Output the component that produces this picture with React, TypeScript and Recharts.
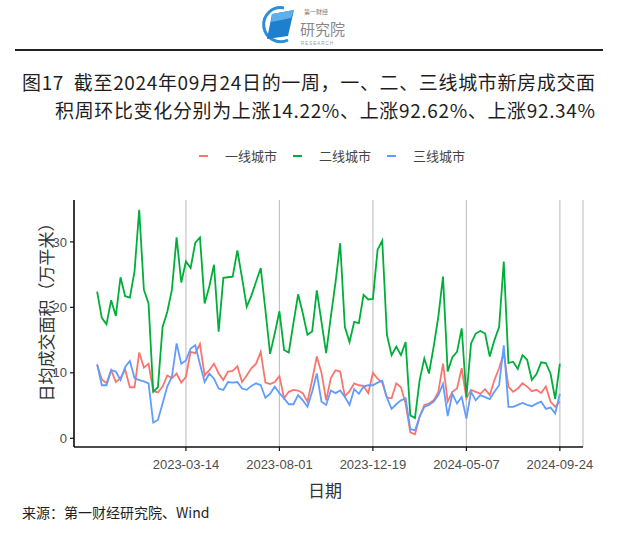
import React from "react";
import { LineChart, Line, XAxis, YAxis, CartesianGrid } from "recharts";

// weekly, first week ending 2022-11-01
const startDate = "2022-11-01";

const tier1 = [
  11.2, 9.0, 8.4, 10.4, 8.6, 9.2, 10.5, 7.8, 7.8, 13.1,
  10.8, 11.4, 7.2, 7.0, 7.9, 9.6, 9.2, 9.9, 8.5, 9.4,
  13.2, 13.0, 14.4, 9.6, 10.4, 11.4, 9.9, 8.9, 10.2, 10.3,
  11.0, 8.6, 9.6, 10.7, 11.4, 13.2, 8.5, 8.3, 8.6, 9.5,
  6.1, 7.1, 7.4, 7.3, 6.9, 5.6, 8.9, 12.5, 10.0, 5.8,
  9.2, 10.4, 10.2, 6.4, 7.2, 8.4, 8.1, 8.0, 6.9, 10.0,
  9.1, 8.5, 6.2, 6.1, 8.4, 7.8, 5.3, 0.9, 0.6, 3.3,
  5.1, 5.3, 5.8, 7.1, 11.4, 5.6, 7.1, 7.6, 10.7, 6.1,
  7.4, 7.1, 6.8, 7.5, 6.6, 8.9, 10.7, 13.0, 7.9, 7.1,
  7.6, 8.4, 7.9, 7.2, 7.4, 6.9, 7.9, 5.6, 4.8, 5.6,
];

const tier2 = [
  22.4, 18.4, 17.4, 21.1, 18.7, 24.6, 21.7, 21.5, 25.5, 34.9,
  22.7, 20.6, 7.1, 7.8, 17.0, 19.3, 22.7, 30.7, 23.8, 27.0,
  26.0, 29.9, 30.7, 20.6, 23.2, 26.5, 16.3, 24.5, 24.6, 24.7,
  28.7, 24.5, 20.1, 21.8, 23.9, 26.0, 19.6, 12.9, 16.0, 19.4,
  13.5, 13.1, 17.6, 22.0, 19.1, 15.8, 16.3, 22.6, 17.8, 13.0,
  18.6, 23.8, 29.8, 17.0, 14.7, 17.8, 17.6, 21.9, 21.2, 21.3,
  28.8, 30.2, 15.8, 12.7, 14.0, 12.7, 14.7, 3.5, 3.1, 8.9,
  12.2, 9.9, 14.0, 18.6, 24.7, 10.2, 12.4, 13.2, 16.8, 6.3,
  14.5, 16.0, 16.4, 16.0, 12.5, 15.0, 17.0, 27.0, 11.5, 11.7,
  10.6, 12.7, 12.0, 8.9, 9.8, 11.6, 11.5, 9.9, 6.0, 11.4,
];

const tier3 = [
  11.3, 8.1, 8.1, 10.4, 10.2, 8.9, 10.9, 11.8, 9.2, 8.9,
  8.7, 8.4, 2.4, 2.8, 5.3, 7.9, 9.4, 14.5, 11.4, 11.9,
  13.7, 14.2, 11.3, 8.6, 9.9, 9.1, 7.6, 7.4, 8.6, 8.5,
  8.6, 7.6, 7.4, 8.0, 8.4, 8.1, 6.2, 6.8, 7.9, 6.9,
  6.1, 5.2, 5.2, 6.6, 5.8, 4.8, 7.1, 9.9, 5.6, 5.1,
  7.3, 6.9, 7.3, 6.3, 5.1, 7.5, 6.8, 7.9, 8.1, 8.1,
  8.5, 8.8, 6.2, 4.5, 5.2, 5.8, 6.1, 1.4, 1.2, 3.3,
  4.8, 5.1, 5.6, 6.6, 8.3, 3.4, 6.8, 5.3, 6.3, 3.0,
  7.1, 5.8, 6.6, 6.3, 6.0, 7.1, 8.1, 14.2, 4.8, 4.8,
  5.1, 5.4, 5.1, 4.9, 5.3, 5.6, 4.5, 4.7, 3.8, 6.8,
];

const xTickLabels = ["2023-03-14", "2023-08-01", "2023-12-19", "2024-05-07", "2024-09-24"];
const yTicks = [0, 10, 20, 30];
const seriesNames = ["一线城市", "二线城市", "三线城市"];
const seriesKeys = ["tier1", "tier2", "tier3"];
const seriesColors = ["#F8766D", "#00AE3A", "#619CFF"];

const WEEK = 7 * 24 * 3600 * 1000;
const toMs = (s: string) => Date.parse(s + "T00:00:00Z");
const fmtDate = (ms: number) => new Date(ms).toISOString().slice(0, 10);

const t0 = toMs(startDate);
const data = tier1.map((v, i) => ({ t: t0 + i * WEEK, tier1: v, tier2: tier2[i], tier3: tier3[i] }));
const tEnd = data[data.length - 1].t;
const pad = (tEnd - t0) * 0.05;

const sans = "'Noto Sans CJK SC', 'Liberation Sans', sans-serif";
const arial = "'Liberation Sans', Arial, sans-serif";

function Logo() {
  return (
    <svg width="100" height="46" style={{ position: "absolute", left: 258, top: 2 }}>
      <path d="M 26 6 A 17 17 0 1 0 30 38" fill="none" stroke="#2a8fd8" strokeWidth="3" />
      <path d="M 14 12 L 36 8 L 30 34 L 9 37 Z" fill="#1f7fcf" />
      <path d="M 14 12 L 36 8 L 33 16 L 13 20 Z" fill="#5fb0ea" />
      <text x="46" y="12" fontSize="6" fill="#777" fontFamily={sans}>第一财经</text>
      <text x="42" y="33" fontSize="15" fill="#888" fontFamily={sans}>研究院</text>
      <text x="43" y="43" fontSize="4.5" fill="#999" fontFamily={arial} letterSpacing="1">RESEARCH</text>
    </svg>
  );
}

const titleStyle = {
  position: "absolute" as const,
  fontFamily: sans,
  fontSize: 19,
  letterSpacing: 0.65,
  color: "#1e1e1e",
  whiteSpace: "nowrap" as const,
  lineHeight: "24px",
};

export default function App() {
  return (
    <div style={{ position: "absolute", left: 0, top: 0, width: 640, height: 540, background: "#fff", overflow: "hidden" }}>
      <Logo />
      <div style={{ position: "absolute", left: 15, top: 49, width: 588, height: 1.5, background: "#222" }} />

      <div style={{ ...titleStyle, left: 22, top: 69.5 }}>
        图17&nbsp;&nbsp;截至2024年09月24日的一周，一、二、三线城市新房成交面
      </div>
      <div style={{ ...titleStyle, left: 55, top: 97.5 }}>
        积周环比变化分别为上涨14.22%、上涨92.62%、上涨92.34%
      </div>

      {/* legend */}
      {seriesNames.map((name, i) => (
        <div key={name} style={{ position: "absolute", left: 199 + i * 94, top: 146, display: "flex", alignItems: "center", fontFamily: sans, fontSize: 13, color: "#444", whiteSpace: "nowrap" }}>
          <span style={{ display: "inline-block", width: 9, height: 2, background: seriesColors[i], marginRight: 17 }} />
          {name}
        </div>
      ))}

      <div style={{ position: "absolute", left: 45, top: 308, transform: "translate(-50%, -50%) rotate(-90deg)", fontFamily: sans, fontSize: 17, color: "#333", whiteSpace: "nowrap" }}>
        日均成交面积（万平米）
      </div>

      <div style={{ position: "absolute", left: 0, top: 0 }}>
        <LineChart width={640} height={540} data={data} margin={{ top: 200, right: 57, bottom: 63, left: 0 }}>
          <CartesianGrid horizontal={false} stroke="#c4c4c4" strokeWidth={1.2} />
          <XAxis
            dataKey="t"
            type="number"
            scale="linear"
            domain={[t0 - pad, tEnd + pad]}
            ticks={xTickLabels.map(toMs)}
            tickFormatter={fmtDate}
            height={30}
            tickSize={4}
            tickMargin={9}
            axisLine={{ stroke: "#111", strokeWidth: 1.6 }}
            tickLine={{ stroke: "#111", strokeWidth: 1.2 }}
            tick={{ fill: "#4d4d4d", fontSize: 13, fontFamily: arial }}
          />
          <YAxis
            type="number"
            domain={[-1.33, 36.4]}
            ticks={yTicks}
            width={74}
            tickSize={4}
            tickMargin={3}
            axisLine={{ stroke: "#111", strokeWidth: 1.6 }}
            tickLine={{ stroke: "#111", strokeWidth: 1.2 }}
            tick={{ fill: "#4d4d4d", fontSize: 13, fontFamily: arial }}
          />
          {seriesKeys.map((k, i) => (
            <Line key={k} type="linear" dataKey={k} stroke={seriesColors[i]} strokeWidth={1.8} dot={false} isAnimationActive={false} />
          ))}
        </LineChart>
      </div>

      <div style={{ position: "absolute", left: 325, top: 489, transform: "translate(-50%, -50%)", fontFamily: sans, fontSize: 17, color: "#333" }}>
        日期
      </div>
      <div style={{ position: "absolute", left: 22, top: 502, fontFamily: sans, fontSize: 14, color: "#1e1e1e", whiteSpace: "nowrap" }}>
        来源：第一财经研究院、Wind
      </div>
    </div>
  );
}
